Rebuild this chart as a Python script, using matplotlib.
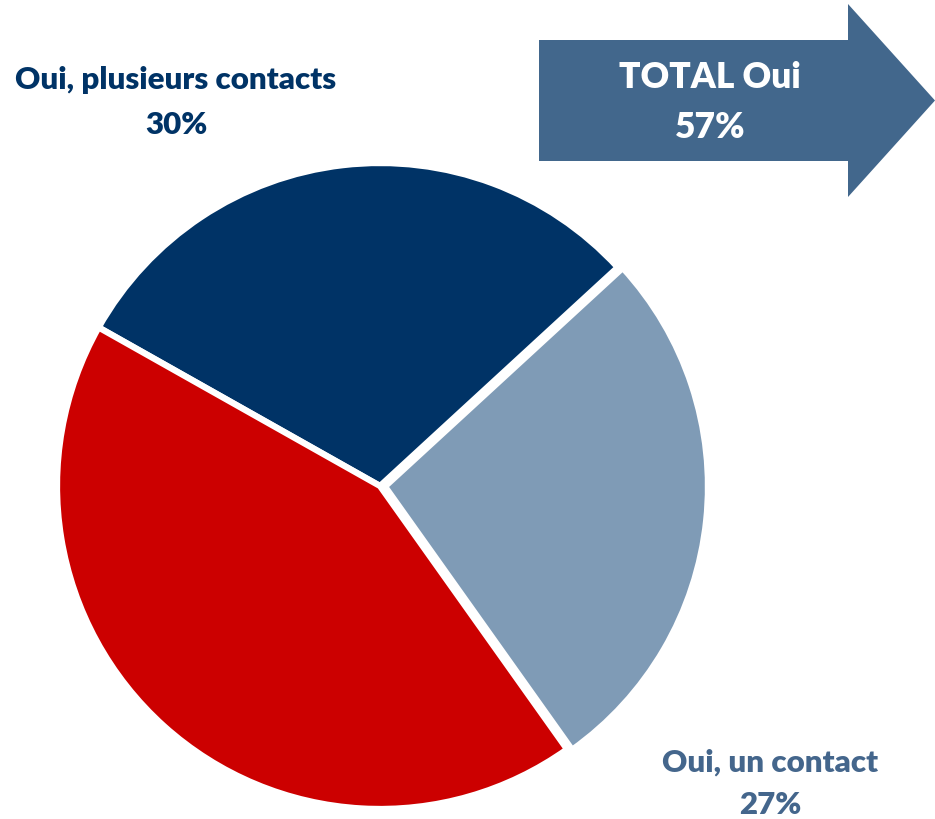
import matplotlib
matplotlib.use("Agg")
import matplotlib.pyplot as plt
import matplotlib.patches as mpatches

categories = ["Oui, plusieurs contacts", "Non", "Oui, un contact"]
values = [30, 43, 27]
colors = ["#003366", "#CC0000", "#7F9BB6"]
total_label = "TOTAL Oui"
total_value = 57

W, H = 935, 820
fig = plt.figure(figsize=(W / 100, H / 100), dpi=100)
ax = fig.add_axes([0, 0, 1, 1])
ax.set_xlim(0, W)
ax.set_ylim(0, H)
ax.set_aspect("equal")
ax.axis("off")

cx, cy, r = 380, H - 487, 323
wedges, _ = ax.pie(values, colors=colors, startangle=42.6, counterclock=True,
                   center=(cx, cy), radius=r, explode=[0, 0, 5],
                   wedgeprops=dict(edgecolor="white", linewidth=4.5),
                   frame=True)
ax.set_xlim(0, W)
ax.set_ylim(0, H)
ax.axis("off")

font = "Lato"
wt = "heavy"
ax.text(176, H - 80, categories[0], ha="center", va="center", fontsize=22.5,
        fontweight=wt, color="#003366", family=font)
ax.text(176, H - 125, f"{values[0]}%", ha="center", va="center", fontsize=22.5,
        fontweight=wt, color="#003366", family=font)
ax.text(770, H - 763, categories[2], ha="center", va="center", fontsize=22.5,
        fontweight=wt, color="#44668C", family=font)
ax.text(770, H - 805, f"{values[2]}%", ha="center", va="center", fontsize=22.5,
        fontweight=wt, color="#44668C", family=font)

arrow_color = "#42678C"
arrow = mpatches.FancyArrow(539, H - 101.5, 848 - 539, 0, width=121,
                            head_width=193, head_length=935 - 848,
                            length_includes_head=False, color=arrow_color,
                            linewidth=0)
ax.add_patch(arrow)
ax.text(710, H - 78, total_label, ha="center", va="center", fontsize=25.5,
        fontweight=wt, color="white", family=font)
ax.text(710, H - 128, f"{total_value}%", ha="center", va="center", fontsize=25.5,
        fontweight=wt, color="white", family=font)

fig.savefig("out.png", dpi=100)
